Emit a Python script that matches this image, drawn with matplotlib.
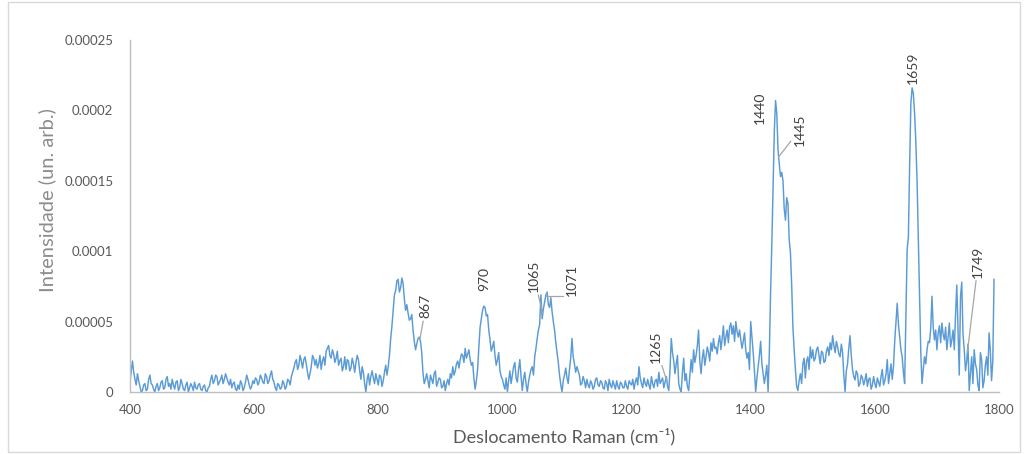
import numpy as np
import matplotlib
matplotlib.use('Agg')
import matplotlib.pyplot as plt

plt.rcParams['font.family'] = ['Lato', 'DejaVu Sans']

# Raman spectrum, intensity in units of 1e-5 (arb.)
# b-blocks: samples at 400, 404, 408 ... ; m-blocks: samples at 402, 406, 410 ...
b400 = [0.7, 2.2, 0.9, 1.3, 0.4, 0.1, 0.6, 0.2, 1.2, 0.5, 0.0, 0.6, 0.3, 0.8, 0.3, 1.1, 0.6, 0.9, 0.2, 0.8, 0.3, 0.6, 0.1, 0.7, 0.3]
m400 = [1.5, 1.4, 0.5, 0.8, 0.0, 0.5, 0.1, 0.9, 0.6, 0.2, 0.4, 0.1, 0.7, 0.2, 0.9, 0.4, 0.2, 0.5, 0.7, 0.1, 0.9, 0.2, 0.5, 0.0, 0.6]
b500 = [0.4, 0.7, 0.2, 0.6, 0.1, 0.5, 0.0, 0.4, 1.2, 0.8, 1.1, 0.7, 1.2, 0.9, 1.0, 0.5, 0.3, 0.7, 0.1, 0.2, 0.6, 0.3, 1.2, 0.5, 0.4]
m500 = [0.1, 0.3, 0.5, 0.2, 0.4, 0.1, 0.3, 0.9, 0.6, 1.2, 0.5, 0.9, 0.6, 1.3, 0.7, 0.9, 0.6, 0.2, 0.5, 0.8, 0.1, 0.7, 0.9, 0.2, 0.8]
b600 = [0.6, 0.9, 0.7, 1.0, 0.6, 1.1, 0.8, 1.5, 0.7, 0.1, 0.5, 0.3, 0.6, 0.4, 0.8, 1.1, 1.7, 2.3, 1.9, 2.2, 2.3, 2.0, 0.9, 1.8, 2.4]
m600 = [1.0, 0.5, 1.2, 0.7, 1.3, 0.6, 1.2, 0.9, 0.3, 0.6, 0.2, 0.8, 0.2, 0.9, 0.5, 1.4, 2.1, 1.6, 2.6, 1.7, 2.5, 1.4, 1.3, 2.6, 1.9]
b700 = [2.3, 2.0, 1.6, 2.5, 2.9, 3.3, 2.4, 2.7, 2.4, 1.9, 2.4, 1.8, 1.6, 2.2, 1.7, 2.0, 2.1, 2.3, 0.9, 1.4, 0.0, 1.3, 1.1, 1.0, 1.3]
m700 = [1.7, 2.6, 2.2, 1.9, 3.1, 2.6, 3.0, 2.1, 2.9, 2.2, 1.5, 2.5, 2.3, 1.5, 2.4, 1.4, 2.6, 1.5, 1.8, 0.6, 0.9, 0.5, 1.5, 0.6, 0.9]
b800 = [0.5, 1.1, 0.8, 1.9, 1.8, 3.8, 5.8, 7.2, 8.0, 7.4, 7.7, 5.8, 5.6, 5.2, 4.4, 3.0, 3.8, 3.6, 1.35, 0.9, 0.8, 1.2, 0.6, 1.5, 0.7]
m800 = [1.2, 0.4, 1.4, 1.2, 2.6, 4.7, 6.9, 7.9, 7.1, 8.1, 6.6, 6.2, 5.1, 5.5, 3.6, 3.4, 3.9, 2.8, 0.6, 1.3, 0.3, 0.9, 1.3, 0.4, 1.0]
b900 = [0.9, 0.4, 0.1, 0.9, 1.3, 1.8, 1.5, 2.2, 2.3, 2.6, 3.1, 2.7, 2.3, 2.1, 0.2, 1.6, 4.6, 5.8, 6.0, 5.5, 3.7, 3.2, 2.6, 2.3, 1.5]
m900 = [0.3, 0.8, 0.6, 0.5, 1.0, 1.2, 2.0, 1.7, 2.7, 2.1, 2.4, 3.0, 1.9, 1.0, 0.8, 3.2, 5.2, 6.1, 5.4, 4.4, 2.9, 3.6, 1.9, 2.8, 1.1]
b1000 = [0.9, 0.2, 0.0, 1.5, 1.2, 2.1, 0.7, 2.3, 0.1, 1.4, 0.0, 1.2, 1.8, 2.5, 3.8, 4.8, 5.2, 6.4, 7.1, 6.0, 5.7, 4.4, 2.8, 1.2, 0.0]
m1000 = [0.5, 1.0, 0.8, 0.6, 1.8, 1.0, 1.6, 1.1, 0.9, 0.6, 0.7, 1.6, 1.2, 3.1, 4.4, 6.9, 5.9, 6.9, 6.2, 6.7, 5.0, 3.5, 2.1, 0.5, 0.8]
b1100 = [1.2, 1.0, 1.6, 3.8, 2.0, 1.8, 1.2, 0.6, 0.8, 0.9, 0.3, 0.6, 0.4, 1.0, 0.4, 0.7, 0.2, 0.6, 0.9, 0.3, 0.5, 0.8, 0.2, 0.6, 0.3]
m1100 = [1.7, 0.6, 2.4, 2.5, 1.4, 1.5, 0.5, 1.1, 0.3, 0.5, 0.8, 0.2, 0.9, 0.5, 0.8, 0.3, 0.8, 0.1, 0.5, 0.8, 0.2, 0.4, 0.7, 0.3, 0.8]
b1200 = [0.4, 0.8, 0.5, 0.2, 1.0, 1.8, 0.6, 1.0, 0.4, 0.5, 1.1, 0.3, 0.9, 1.4, 0.8, 0.3, 1.1, 0.1, 3.8, 2.2, 2.0, 0.6, 0.0, 2.4, 1.3]
m1200 = [0.2, 0.6, 0.9, 0.7, 0.5, 1.0, 0.3, 0.6, 0.9, 0.2, 0.6, 0.8, 0.4, 0.6, 1.0, 0.7, 0.4, 1.6, 2.8, 1.3, 2.6, 0.2, 1.4, 0.8, 0.4]
b1300 = [0.1, 2.3, 3.0, 2.6, 4.4, 1.3, 3.0, 2.5, 2.8, 3.5, 3.8, 3.2, 3.5, 3.0, 4.7, 3.9, 3.5, 4.9, 4.7, 5.0, 3.9, 3.7, 3.6, 3.0, 2.8]
m1300 = [1.2, 1.4, 2.1, 3.3, 2.2, 2.4, 1.9, 3.2, 2.2, 2.9, 3.1, 2.7, 4.0, 3.8, 3.3, 4.4, 4.6, 4.1, 3.6, 4.3, 4.4, 3.1, 4.2, 2.4, 1.6]
b1400 = [5.0, 2.8, 0.0, 1.8, 3.6, 1.3, 1.2, 0.0, 7.0, 14.5, 20.7, 17.2, 15.3, 15.0, 12.2, 13.4, 9.9, 4.6, 1.6, 0.1, 1.3, 2.0, 1.0, 2.5, 3.2]
m1400 = [3.9, 1.5, 1.0, 2.6, 2.0, 0.6, 1.9, 2.8, 10.5, 18.5, 19.8, 16.2, 15.6, 13.0, 13.8, 10.8, 7.6, 3.0, 0.4, 0.8, 0.6, 2.4, 2.2, 1.6, 2.4]
b1500 = [3.0, 2.4, 3.2, 2.0, 2.8, 2.2, 3.2, 3.5, 4.0, 2.8, 3.2, 2.5, 2.8, 0.0, 2.0, 4.0, 1.6, 0.85, 1.3, 0.6, 1.0, 0.85, 0.4, 1.0, 0.5]
m1500 = [2.2, 3.0, 2.6, 2.9, 2.1, 2.9, 2.6, 3.0, 3.3, 3.6, 2.7, 3.4, 1.2, 1.5, 3.1, 2.6, 1.1, 1.5, 0.4, 1.2, 0.5, 1.3, 0.9, 0.2, 1.1]
b1600 = [0.6, 1.0, 0.4, 1.6, 0.8, 2.3, 1.3, 0.9, 3.6, 6.3, 3.9, 2.5, 0.6, 10.1, 16.0, 21.6, 19.8, 15.0, 7.0, 0.6, 2.5, 3.0, 3.5, 6.8, 3.7]
m1600 = [0.3, 0.7, 1.1, 0.5, 1.3, 0.6, 2.0, 1.8, 5.0, 4.8, 3.0, 1.4, 5.5, 11.0, 20.5, 21.2, 17.8, 11.0, 2.8, 1.6, 2.0, 3.6, 4.5, 4.6, 4.4]
b1700 = [3.0, 4.7, 4.9, 3.7, 3.0, 4.9, 3.7, 3.0, 7.6, 1.2, 7.8, 3.0, 2.2, 0.1, 2.5, 3.0, 1.6, 0.1, 2.3, 0.8, 2.5, 4.2, 0.8, 8.0]
m1700 = [4.2, 3.5, 4.1, 4.6, 3.9, 3.2, 4.4, 5.5, 4.5, 6.8, 4.1, 1.5, 3.4, 1.3, 0.6, 2.0, 0.5, 2.8, 0.3, 1.9, 1.2, 3.0, 2.2]

even = (b400 + b500 + b600 + b700 + b800 + b900 + b1000 + b1100
        + b1200 + b1300 + b1400 + b1500 + b1600 + b1700)
odd = (m400 + m500 + m600 + m700 + m800 + m900 + m1000 + m1100
       + m1200 + m1300 + m1400 + m1500 + m1600 + m1700)

intensity = np.empty(len(even) + len(odd))
intensity[0::2] = even
intensity[1::2] = odd
intensity *= 1e-5
shift = 400 + 2 * np.arange(len(intensity))

# labelled bands
peaks = [867, 970, 1065, 1071, 1265, 1440, 1445, 1659, 1749]
# label offsets (pixels) and leader style
offsets = [(6, 33), (0, 27), (-9, 38), (25, 14), (-11, 35), (-16, -7), (21, 27), (1, 28), (11, 91)]
leaders = ['line', None, 'line', 'elbow', 'line', None, 'line', None, 'line']

fig = plt.figure(figsize=(10.24, 4.54), dpi=100)
ax = fig.add_axes([130 / 1024, 1 - 392 / 454, 869 / 1024, 352 / 454])

ax.plot(shift, intensity, color='#5b9bd5', lw=1.05)

ax.set_xlim(400, 1800)
ax.set_ylim(0, 0.00025)
ax.set_xticks(np.arange(400, 1801, 200))
ax.set_yticks([0, 0.00005, 0.0001, 0.00015, 0.0002, 0.00025])
ax.set_yticklabels(['0', '0.00005', '0.0001', '0.00015', '0.0002', '0.00025'])
ax.tick_params(length=0, labelsize=9.5, labelcolor='#595959')
ax.tick_params(axis='y', pad=12)
ax.tick_params(axis='x', pad=9)

for s in ['top', 'right']:
    ax.spines[s].set_visible(False)
for s in ['left', 'bottom']:
    ax.spines[s].set_color('#bfbfbf')
    ax.spines[s].set_linewidth(1.0)

ax.set_ylabel('Intensidade (un. arb.)', fontsize=14.5, color='#8c8c8c')
ax.yaxis.set_label_coords(-0.085, 0.545)
ax.set_xlabel('Deslocamento Raman (cm⁻¹)', fontsize=13, color='#595959', labelpad=8)

for p, (dx, dy), kind in zip(peaks, offsets, leaders):
    yv = np.interp(p, shift, intensity)
    arrow = None
    if kind == 'line':
        arrow = dict(arrowstyle='-', color='#a6a6a6', lw=0.9, shrinkA=0, shrinkB=0)
    elif kind == 'elbow':
        arrow = dict(arrowstyle='-', color='#a6a6a6', lw=0.9, shrinkA=0, shrinkB=0,
                     relpos=(0.5, 0.0), connectionstyle='angle,angleA=0,angleB=90,rad=0')
    ax.annotate(str(p), xy=(p, yv), xytext=(dx, dy), textcoords='offset pixels',
                rotation=90, ha='center', va='center', fontsize=10, color='#404040',
                arrowprops=arrow, annotation_clip=False)

# chart-area border
fig.patches.append(plt.Rectangle((8 / 1024, 2 / 454), 1012 / 1024, 450 / 454,
                                  transform=fig.transFigure, fill=False,
                                  edgecolor='#d9d9d9', lw=1.0))

fig.savefig('out.png', dpi=100)
